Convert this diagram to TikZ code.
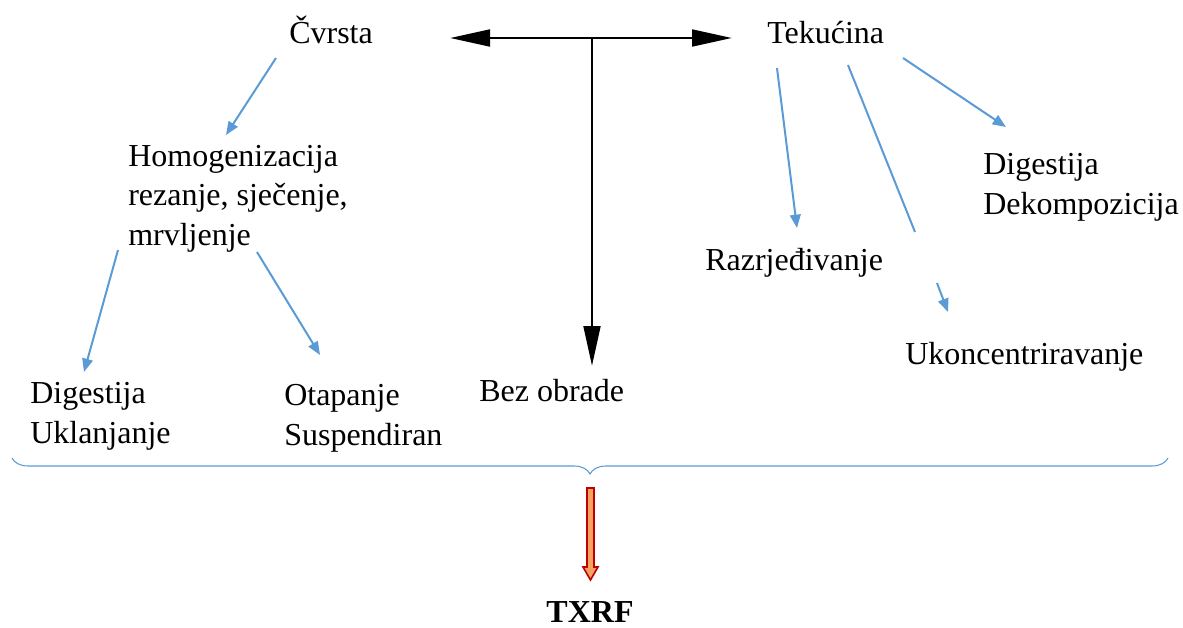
\documentclass[tikz,border=0pt]{standalone}
\usepackage{fontspec}
\setmainfont{Liberation Serif}
\usetikzlibrary{arrows.meta,decorations.pathreplacing}
\definecolor{lineblue}{HTML}{5B9BD5}
\definecolor{arrowred}{HTML}{C00000}
\definecolor{arrowfill}{HTML}{F4A460}
\tikzset{
	lbl/.style={inner sep=0pt, anchor=base west, align=left, font=\fontsize{24pt}{29.6pt}\selectfont},
	bluearrow/.style={draw=lineblue, line width=1.5pt, -{Triangle[length=10pt,width=8pt]}},
	blueline/.style={draw=lineblue, line width=1.5pt},
	blackarrow/.style={line width=2.2pt, -{Triangle[length=30pt,width=12.5pt]}}
}
\begin{document}
\begin{tikzpicture}[x=0.75pt, y=-0.75pt]
\useasboundingbox (0,0) rectangle (1183,628);

% text (base = last line)
\node[lbl](cvrsta) at(289,43) {Čvrsta};
\node[lbl](tekucina) at(767,43) {Tekućina};
\node[lbl](homog) at(128,245) {Homogenizacija\\rezanje, sječenje,\\mrvljenje};
\node[lbl](digdek) at(983,214) {Digestija\\Dekompozicija};
\node[lbl](razrj) at(705,270) {Razrjeđivanje};
\node[lbl](ukonc) at(905,364) {Ukoncentriravanje};
\node[lbl](digukl) at(30,443) {Digestija\\Uklanjanje};
\node[lbl](otap) at(284,445) {Otapanje\\Suspendiran};
\node[lbl](bez) at(479,401) {Bez obrade};
\node[inner sep=0pt, anchor=base, font=\fontsize{24pt}{29.6pt}\selectfont\bfseries](txrf) at(590,622) {TXRF};

% ends of the connectors
\foreach \n\x\y in {
	c1/276/58
	,c2/226/135
	,h1/118/250
	,h2/84/372
	,h3/257/252
	,h4/320/355
	,t1/777/68
	,t2/797/228
	,t3/848/65
	,t4/915/232
	,t5/937/283
	,t6/948/312
	,t7/903/58
	,t8/1006/127
}{
	\coordinate(\n) at(\x,\y);
}

\foreach \u \v in {
c1/c2%
,h1/h2%
,h3/h4%
,t1/t2%
,t5/t6%
,t7/t8%
}{
	\draw[bluearrow] (\u) -- (\v);
}
\draw[blueline] (t3) -- (t4);

% black arrows
\coordinate(left) at(450,38);
\coordinate(right) at(732,38);
\coordinate(mid) at(592,38);
\coordinate(down) at(592,366);
\draw[blackarrow] (mid) -- (left);
\draw[blackarrow] (mid) -- (right);
\draw[blackarrow] (mid) -- (down);

% brace
\draw[lineblue, line width=0.8pt, decorate, decoration={brace, amplitude=12pt}] (1168,458) -- (12,458);

% red arrow
\filldraw[draw=arrowred, fill=arrowfill, line width=1.2pt]
	(587,488) -- (594,488) -- (594,567) -- (598,567) -- (590.5,580) -- (583,567) -- (587,567) -- cycle;

\end{tikzpicture}
\end{document}
